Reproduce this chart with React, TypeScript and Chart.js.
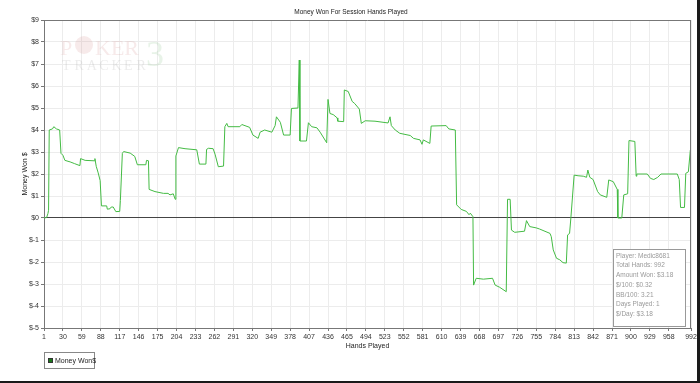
import React, { useEffect, useRef } from "react";
import { Chart, registerables } from "chart.js";

Chart.register(...registerables);

const chartTitle = "Money Won For Session Hands Played";
const xTitle = "Hands Played";
const yTitle = "Money Won $";
const seriesName = "Money Won$";

const xTicks = [1, 30, 59, 88, 117, 146, 175, 204, 233, 262, 291, 320, 349, 378, 407, 436, 465, 494, 523, 552, 581, 610, 639, 668, 697, 726, 755, 784, 813, 842, 871, 900, 929, 958, 992];
const yMin = -5;
const yMax = 9;

const hands = [1, 5, 7, 8, 9, 14, 16, 20, 25, 27, 30, 33, 41, 48, 56, 57, 64, 78, 79, 81, 84, 87, 89, 97, 98, 102, 104, 107, 111, 117, 118, 121, 123, 133, 140, 144, 157, 158, 161, 162, 171, 184, 191, 194, 199, 202, 203, 207, 217, 235, 239, 249, 250, 253, 260, 263, 268, 276, 278, 281, 283, 301, 304, 316, 321, 329, 332, 339, 350, 355, 357, 363, 368, 378, 380, 390, 392, 393, 403, 406, 411, 419, 424, 434, 436, 439, 444, 450, 451, 460, 461, 467, 473, 477, 484, 487, 493, 508, 528, 531, 533, 539, 546, 562, 567, 577, 580, 582, 592, 594, 617, 621, 631, 633, 640, 648, 652, 654, 658, 659, 663, 674, 688, 692, 699, 709, 711, 715, 717, 722, 737, 740, 745, 755, 760, 776, 778, 781, 786, 791, 796, 801, 803, 806, 808, 813, 819, 827, 832, 834, 837, 842, 849, 853, 863, 866, 873, 879, 880, 886, 889, 895, 897, 906, 908, 909, 925, 930, 935, 941, 946, 971, 974, 976, 982, 984, 988, 991, 992];

const moneyWon = [0, 0.02, 0.2, 0.35, 4.0, 4.05, 4.15, 4.05, 4.0, 2.94, 2.85, 2.62, 2.55, 2.47, 2.38, 2.7, 2.62, 2.6, 2.7, 2.35, 2.05, 1.7, 0.55, 0.55, 0.4, 0.42, 0.5, 0.5, 0.29, 0.3, 0.8, 2.94, 3.02, 2.95, 2.8, 2.42, 2.42, 2.62, 2.6, 1.3, 1.2, 1.12, 1.12, 1.05, 1.1, 0.85, 2.82, 3.2, 3.15, 3.1, 2.45, 2.45, 3.12, 3.17, 3.15, 2.9, 2.33, 2.36, 4.15, 4.3, 4.15, 4.15, 4.25, 4.12, 3.77, 3.62, 3.9, 4.0, 3.9, 4.2, 4.6, 4.35, 3.77, 3.77, 4.98, 5.0, 7.18, 3.5, 3.5, 4.33, 4.15, 4.1, 3.9, 3.42, 5.39, 4.75, 4.7, 4.55, 4.4, 4.38, 5.82, 5.75, 5.3, 5.2, 4.95, 4.3, 4.42, 4.4, 4.32, 4.6, 4.2, 4.0, 3.85, 3.75, 3.62, 3.55, 3.35, 3.55, 3.39, 4.18, 4.2, 4.05, 4.0, 0.6, 0.39, 0.3, 0.15, 0.22, 0.06, -3.05, -2.74, -2.78, -2.74, -3.05, -3.15, -3.35, 0.85, 0.85, -0.55, -0.65, -0.6, -0.12, -0.39, -0.45, -0.5, -0.7, -0.85, -1.45, -1.83, -1.9, -2.03, -2.05, -0.77, -0.7, 0.0, 1.95, 1.92, 1.9, 1.85, 2.18, 1.85, 1.75, 1.2, 1.05, 0.94, 1.73, 1.65, 1.3, 0.0, 0.0, 1.05, 1.1, 3.52, 3.48, 1.9, 2.0, 2.0, 1.8, 1.75, 1.85, 2.0, 2.0, 1.75, 0.48, 0.48, 2.03, 2.1, 3.09, 3.18];

const infoLines = [
  "Player: Medic8681",
  "Total Hands: 992",
  "Amount Won: $3.18",
  "$/100: $0.32",
  "BB/100: 3.21",
  "Days Played: 1",
  "$/Day: $3.18",
];

const FONT = "'Liberation Sans', Arial, sans-serif";
const LINE_COLOR = "#44bb44";

const decorPlugin = {
  id: "decor",
  beforeDatasetsDraw(chart: any) {
    const ctx = chart.ctx;
    ctx.save();
    // watermark
    ctx.textBaseline = "alphabetic";
    ctx.textAlign = "left";
    ctx.font = "22px 'Liberation Serif', serif";
    ctx.fillStyle = "rgba(215,150,150,0.2)";
    ctx.fillText("P", 60, 55);
    ctx.beginPath();
    ctx.arc(84, 45, 9, 0, Math.PI * 2);
    ctx.fill();
    ctx.fillText("KER", 95, 55);
    ctx.font = "36px 'Liberation Serif', serif";
    ctx.fillStyle = "rgba(150,200,150,0.22)";
    ctx.fillText("3", 146, 66);
    ctx.font = "14px 'Liberation Serif', serif";
    ctx.fillStyle = "rgba(170,170,170,0.22)";
    const t = "TRACKER";
    let x = 62;
    for (const ch of t) {
      ctx.fillText(ch, x, 70);
      x += 12.4;
    }
    ctx.restore();
  },
  afterDraw(chart: any) {
    const ctx = chart.ctx;
    const a = chart.chartArea;
    ctx.save();
    // plot frame top/right
    ctx.strokeStyle = "#777";
    ctx.lineWidth = 1;
    ctx.beginPath();
    ctx.moveTo(a.left, a.top + 0.5);
    ctx.lineTo(a.right, a.top + 0.5);
    ctx.moveTo(a.right - 0.5, a.top);
    ctx.lineTo(a.right - 0.5, a.bottom);
    ctx.stroke();

    // title
    ctx.fillStyle = "#222";
    ctx.font = `6.5px ${FONT}`;
    ctx.textAlign = "center";
    ctx.textBaseline = "middle";
    ctx.fillText(chartTitle, 351, 12);
    ctx.font = `7px ${FONT}`;
    // x axis title
    ctx.fillText(xTitle, (a.left + a.right) / 2, 346);
    // y axis title
    ctx.save();
    ctx.translate(25, (a.top + a.bottom) / 2);
    ctx.rotate(-Math.PI / 2);
    ctx.fillText(yTitle, 0, 0);
    ctx.restore();

    // legend
    ctx.strokeStyle = "#888";
    ctx.lineWidth = 1;
    ctx.strokeRect(44.5, 352.5, 50, 16);
    ctx.fillStyle = "#1a7a1a";
    ctx.fillRect(48, 358, 5, 5);
    ctx.strokeStyle = "#333";
    ctx.strokeRect(48.5, 358.5, 4, 4);
    ctx.fillStyle = "#222";
    ctx.textAlign = "left";
    ctx.fillText(seriesName, 55, 361);

    // info box
    ctx.fillStyle = "#fff";
    ctx.fillRect(613, 249, 73, 78);
    ctx.strokeStyle = "#999";
    ctx.strokeRect(613.5, 249.5, 72, 77);
    ctx.fillStyle = "#9a9a9a";
    ctx.font = `6.5px ${FONT}`;
    infoLines.forEach((s, i) => {
      ctx.fillText(s, 616, 256 + i * 9.7);
    });

    // outer frame shadow
    ctx.fillStyle = "#1a1a1a";
    ctx.fillRect(697, 0, 3, 383);
    ctx.fillRect(0, 381, 700, 2);
    ctx.restore();
  },
};

export default function App() {
  const ref = useRef<HTMLCanvasElement | null>(null);
  useEffect(() => {
    document.body.style.margin = "0";
    const canvas = ref.current!;
    const chart = new Chart(canvas, {
      type: "line",
      data: {
        datasets: [
          {
            label: seriesName,
            data: hands.map((h, i) => ({ x: h, y: moneyWon[i] })),
            borderColor: LINE_COLOR,
            borderWidth: 1,
            pointRadius: 0,
            tension: 0,
            fill: false,
          },
        ],
      },
      options: {
        animation: false,
        responsive: false,
        devicePixelRatio: 1,
        layout: { padding: { top: 20, right: 9, left: 0, bottom: 0 } },
        plugins: {
          legend: { display: false },
          title: { display: false },
          tooltip: { enabled: false },
        },
        scales: {
          x: {
            type: "linear",
            min: 1,
            max: 992,
            afterBuildTicks: (axis: any) => {
              axis.ticks = xTicks.map((v) => ({ value: v }));
            },
            afterFit: (scale: any) => {
              scale.height = 55;
            },
            ticks: {
              autoSkip: false,
              maxRotation: 0,
              padding: 2,
              color: "#333",
              font: { size: 7, family: FONT },
              callback: (v: any) => String(v),
            },
            grid: { color: "#ececec", tickColor: "#777", tickLength: 3, lineWidth: 1 },
            border: { color: "#777", width: 1 },
          },
          y: {
            type: "linear",
            min: yMin,
            max: yMax,
            afterFit: (scale: any) => {
              scale.width = 44;
            },
            ticks: {
              stepSize: 1,
              padding: 2,
              color: "#333",
              font: { size: 7, family: FONT },
              callback: (v: any) => "$" + v,
            },
            grid: {
              color: (c: any) => (c.tick && c.tick.value === 0 ? "#444" : "#ececec"),
              tickColor: "#777",
              tickLength: 3,
              lineWidth: 1,
            },
            border: { color: "#777", width: 1 },
          },
        },
      },
      plugins: [decorPlugin],
    });
    return () => chart.destroy();
  }, []);
  return <canvas ref={ref} width={700} height={383} style={{ display: "block", width: 700, height: 383 }} />;
}
